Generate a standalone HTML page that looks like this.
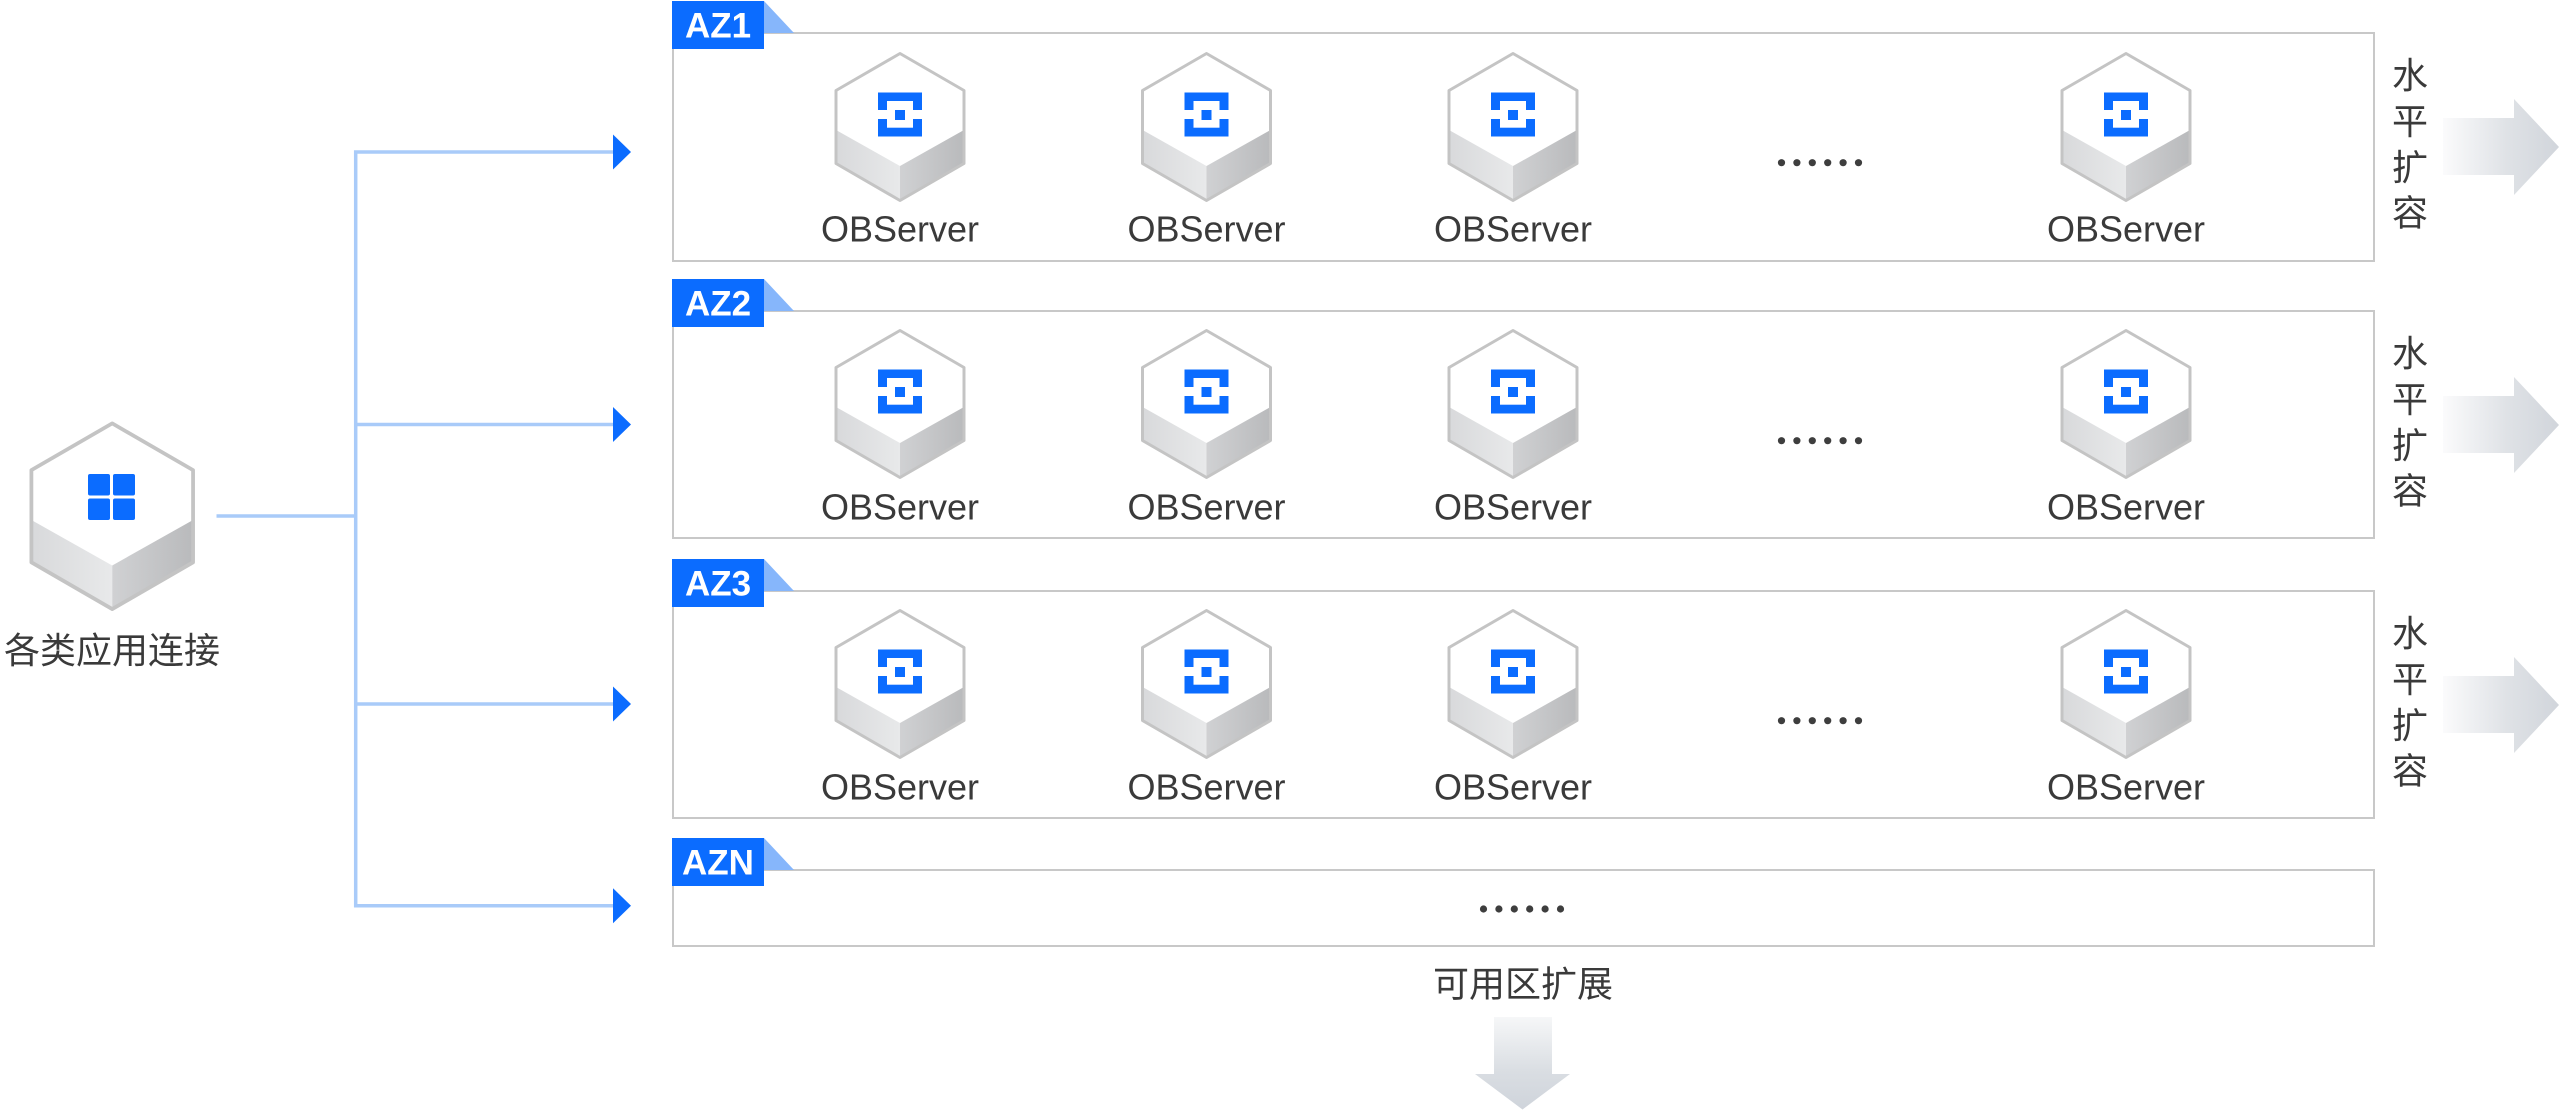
<!DOCTYPE html>
<html><head><meta charset="utf-8"><style>
html,body{margin:0;padding:0;background:#fff;}
svg{display:block;}
.ob{font-family:"Liberation Sans",sans-serif;font-size:36px;fill:#3a3a3a;text-anchor:middle;}
.az{font-family:"Liberation Sans",sans-serif;font-weight:bold;font-size:35px;fill:#fff;text-anchor:middle;}
.cn{font-family:"Liberation Sans","Noto Sans CJK SC",sans-serif;font-size:36px;fill:#3a3a3a;text-anchor:middle;}
</style></head><body>
<svg width="2560" height="1110" viewBox="0 0 2560 1110" xmlns="http://www.w3.org/2000/svg">
<defs>
<linearGradient id="gl" x1="0" y1="0" x2="1" y2="0"><stop offset="0" stop-color="#d8d9db"/><stop offset="1" stop-color="#e8e9ea"/></linearGradient>
<linearGradient id="gr" x1="0" y1="0" x2="1" y2="0"><stop offset="0" stop-color="#d0d1d3"/><stop offset="1" stop-color="#b9babc"/></linearGradient>
<linearGradient id="ga" x1="0" y1="0" x2="1" y2="0"><stop offset="0" stop-color="#fbfbfc"/><stop offset="0.55" stop-color="#dfe2e6"/><stop offset="1" stop-color="#d1d5db"/></linearGradient>
<linearGradient id="gd" x1="0" y1="0" x2="0" y2="1"><stop offset="0" stop-color="#f6f7f8"/><stop offset="0.6" stop-color="#d9dde2"/><stop offset="1" stop-color="#cfd4db"/></linearGradient>
<g id="hx">
<polygon points="65.5,1.5 129.5,38.5 129.5,111.5 65.5,148.5 1.5,111.5 1.5,38.5" fill="#fff"/>
<polygon points="1.5,78 65.5,114 65.5,148.5 1.5,111.5" fill="url(#gl)"/>
<polygon points="65.5,114 129.5,78 129.5,111.5 65.5,148.5" fill="url(#gr)"/>
<polygon points="65.5,1.5 129.5,38.5 129.5,111.5 65.5,148.5 1.5,111.5 1.5,38.5" fill="none" stroke="#c4c4c4" stroke-width="3" stroke-linejoin="round"/>
</g>
<g id="srv">
<use href="#hx"/>
<g transform="translate(43.5,40.5)" fill="#0b6cff">
<rect x="0" y="0" width="44" height="8.5"/>
<rect x="0" y="0" width="9" height="17.5"/>
<rect x="35" y="0" width="9" height="17.5"/>
<rect x="17" y="17.5" width="10" height="10"/>
<rect x="0" y="26.5" width="9" height="17.5"/>
<rect x="35" y="26.5" width="9" height="17.5"/>
<rect x="0" y="35.2" width="44" height="8.8"/>
</g>
</g>
<g id="dots" fill="#3e3e3e">
<circle cx="0" cy="0" r="3.6"/><circle cx="15.4" cy="0" r="3.6"/><circle cx="30.8" cy="0" r="3.6"/><circle cx="46.2" cy="0" r="3.6"/><circle cx="61.6" cy="0" r="3.6"/><circle cx="77" cy="0" r="3.6"/>
</g>
<g id="rarr"><path d="M2443,85 H2514 V66 L2559,114 L2514,162 V142 H2443 Z" fill="url(#ga)"/></g>
<g id="ah"><polygon points="613,-17.5 631,0 613,17.5" fill="#0b6cff"/></g>
</defs>

<!-- connectors -->
<g stroke="#a9cbf9" stroke-width="3.5" fill="none">
<line x1="216.5" y1="516" x2="355.7" y2="516"/>
<path d="M614,152 H355.7 V905.7 H614"/>
<line x1="355.7" y1="424.5" x2="614" y2="424.5"/>
<line x1="355.7" y1="704" x2="614" y2="704"/>
</g>
<use href="#ah" transform="translate(0,152)"/>
<use href="#ah" transform="translate(0,424.5)"/>
<use href="#ah" transform="translate(0,704)"/>
<use href="#ah" transform="translate(0,905.7)"/>

<!-- app node -->
<use href="#hx" transform="translate(29.5,421.5) scale(1.263)"/>
<g fill="#0b6cff">
<rect x="88" y="474" width="22" height="21.5" rx="2"/>
<rect x="113" y="474" width="22" height="21.5" rx="2"/>
<rect x="88" y="498.5" width="22" height="21.5" rx="2"/>
<rect x="113" y="498.5" width="22" height="21.5" rx="2"/>
</g>
<text class="cn" x="112" y="663">各类应用连接</text>

<!-- AZ1 -->
<g transform="translate(0,33)">
<rect x="673" y="0" width="1701" height="228" fill="none" stroke="#c8c8c8" stroke-width="2"/>
<polygon points="764,-32 794,0 764,0" fill="#86b6fb"/>
<rect x="672" y="-32" width="92" height="48" fill="#0b6cff"/>
<text class="az" x="718" y="4.5">AZ1</text>
<use href="#srv" transform="translate(834.5,19)"/>
<use href="#srv" transform="translate(1141,19)"/>
<use href="#srv" transform="translate(1447.5,19)"/>
<use href="#srv" transform="translate(2060.5,19)"/>
<text class="ob" x="900" y="208.5">OBServer</text>
<text class="ob" x="1206.5" y="208.5">OBServer</text>
<text class="ob" x="1513" y="208.5">OBServer</text>
<text class="ob" x="2126" y="208.5">OBServer</text>
<use href="#dots" transform="translate(1781.5,129.7)"/>
<text class="cn" x="2410" y="55">水</text>
<text class="cn" x="2410" y="101">平</text>
<text class="cn" x="2410" y="147">扩</text>
<text class="cn" x="2410" y="192.5">容</text>
<use href="#rarr"/>
</g>

<!-- AZ2 -->
<g transform="translate(0,311)">
<rect x="673" y="0" width="1701" height="227" fill="none" stroke="#c8c8c8" stroke-width="2"/>
<polygon points="764,-32 794,0 764,0" fill="#86b6fb"/>
<rect x="672" y="-32" width="92" height="48" fill="#0b6cff"/>
<text class="az" x="718" y="4.5">AZ2</text>
<use href="#srv" transform="translate(834.5,18)"/>
<use href="#srv" transform="translate(1141,18)"/>
<use href="#srv" transform="translate(1447.5,18)"/>
<use href="#srv" transform="translate(2060.5,18)"/>
<text class="ob" x="900" y="208.5">OBServer</text>
<text class="ob" x="1206.5" y="208.5">OBServer</text>
<text class="ob" x="1513" y="208.5">OBServer</text>
<text class="ob" x="2126" y="208.5">OBServer</text>
<use href="#dots" transform="translate(1781.5,129.7)"/>
<text class="cn" x="2410" y="55">水</text>
<text class="cn" x="2410" y="101">平</text>
<text class="cn" x="2410" y="147">扩</text>
<text class="cn" x="2410" y="192.5">容</text>
<use href="#rarr"/>
</g>

<!-- AZ3 -->
<g transform="translate(0,591)">
<rect x="673" y="0" width="1701" height="227" fill="none" stroke="#c8c8c8" stroke-width="2"/>
<polygon points="764,-32 794,0 764,0" fill="#86b6fb"/>
<rect x="672" y="-32" width="92" height="48" fill="#0b6cff"/>
<text class="az" x="718" y="4.5">AZ3</text>
<use href="#srv" transform="translate(834.5,18)"/>
<use href="#srv" transform="translate(1141,18)"/>
<use href="#srv" transform="translate(1447.5,18)"/>
<use href="#srv" transform="translate(2060.5,18)"/>
<text class="ob" x="900" y="208.5">OBServer</text>
<text class="ob" x="1206.5" y="208.5">OBServer</text>
<text class="ob" x="1513" y="208.5">OBServer</text>
<text class="ob" x="2126" y="208.5">OBServer</text>
<use href="#dots" transform="translate(1781.5,129.7)"/>
<text class="cn" x="2410" y="55">水</text>
<text class="cn" x="2410" y="101">平</text>
<text class="cn" x="2410" y="147">扩</text>
<text class="cn" x="2410" y="192.5">容</text>
<use href="#rarr"/>
</g>

<!-- AZN -->
<g transform="translate(0,870)">
<rect x="673" y="0" width="1701" height="76" fill="none" stroke="#c8c8c8" stroke-width="2"/>
<polygon points="764,-32 794,0 764,0" fill="#86b6fb"/>
<rect x="672" y="-32" width="92" height="48" fill="#0b6cff"/>
<text class="az" x="718" y="4.5">AZN</text>
<use href="#dots" transform="translate(1483.5,39)"/>
</g>

<text class="cn" x="1523" y="996.5">可用区扩展</text>
<path d="M1494,1017 H1552 V1074 H1570 L1522.5,1109.5 L1475,1074 H1494 Z" fill="url(#gd)"/>
</svg>
</body></html>
